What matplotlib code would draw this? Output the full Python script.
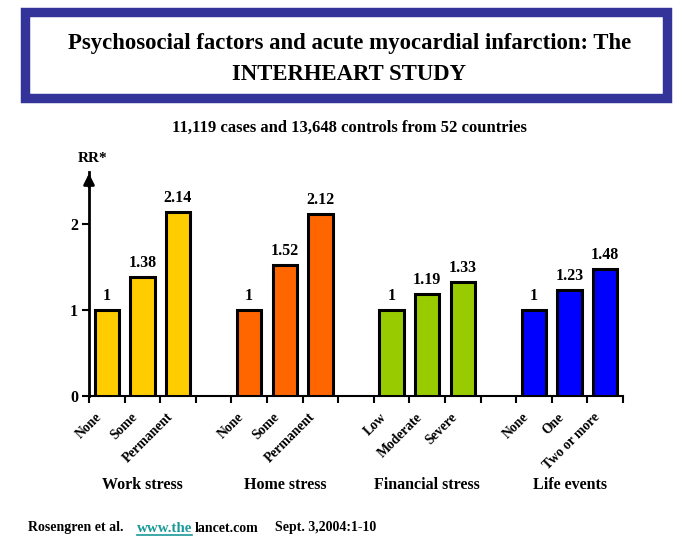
import matplotlib
matplotlib.use("Agg")
import matplotlib.pyplot as plt
from matplotlib.patches import Rectangle

groups = ["Work stress", "Home stress", "Financial stress", "Life events"]
categories = [["None", "Some", "Permanent"],
              ["None", "Some", "Permanent"],
              ["Low", "Moderate", "Severe"],
              ["None", "One", "Two or more"]]
values = [[1, 1.38, 2.14],
          [1, 1.52, 2.12],
          [1, 1.19, 1.33],
          [1, 1.23, 1.48]]
value_labels = [["1", "1.38", "2.14"],
                ["1", "1.52", "2.12"],
                ["1", "1.19", "1.33"],
                ["1", "1.23", "1.48"]]
colors = ["#FFCC00", "#FF6600", "#99CC00", "#0000FF"]

plt.rcParams['font.family'] = ['Liberation Serif', 'DejaVu Serif']
W, H = 699, 542
fig = plt.figure(figsize=(W / 100, H / 100), dpi=100)

# title box
fig.patches.append(Rectangle((25 / W, 1 - 98 / H), 641.5 / W, 85.5 / H, transform=fig.transFigure,
                             facecolor="white", edgecolor="#333399", linewidth=6.8))
fig.text(0.5, 1 - 43 / H, "Psychosocial factors and acute myocardial infarction: The",
         ha="center", va="center", fontsize=16.4, fontweight="bold")
fig.text(0.5, 1 - 74 / H, "INTERHEART STUDY", ha="center", va="center", fontsize=16.4, fontweight="bold")
fig.text(0.5, 1 - 128 / H, "11,119 cases and 13,648 controls from 52 countries",
         ha="center", va="center", fontsize=12, fontweight="bold")

left, right, bottom = 89, 623, 396
ymax = 2.6
ppu = 86
top = bottom - ymax * ppu
ax = fig.add_axes([left / W, 1 - bottom / H, (right - left) / W, (bottom - top) / H])

nslots = 15
for gi, (cats, vals, labs) in enumerate(zip(categories, values, value_labels)):
    for ci, (c, v, lab) in enumerate(zip(cats, vals, labs)):
        pos = gi * 4 + ci + 0.5
        ax.bar(pos, v, width=0.68, color=colors[gi], edgecolor="black", linewidth=2.2, zorder=3)
        ax.text(pos, v + 0.07, lab, ha="center", va="bottom", fontsize=11.5, fontweight="bold")
        ax.text(pos - 0.33, -0.17, c, ha="right", va="top", rotation=45, rotation_mode="anchor",
                fontsize=9.8, fontweight="bold")
    ax.text(gi * 4 + 1.5, -1.03, groups[gi], ha="center", va="center", fontsize=11.5, fontweight="bold")

ax.set_xlim(0, nslots)
ax.set_ylim(0, ymax)
ax.set_xticks(range(0, nslots + 1))
ax.set_xticklabels([])
ax.set_yticks([0, 1, 2])
ax.set_yticklabels(["0", "1", "2"], fontsize=11.5, fontweight="bold")
ax.tick_params(axis="x", direction="out", length=5, width=1.5)
ax.tick_params(axis="y", direction="out", length=5, width=1.5, pad=3)
for s in ["top", "right"]:
    ax.spines[s].set_visible(False)
ax.spines["left"].set_linewidth(2)
ax.spines["bottom"].set_linewidth(1.5)
ax.annotate("", xy=(0, ymax + 0.02), xytext=(0, ymax - 0.2), xycoords="data",
            arrowprops=dict(arrowstyle="-|>", color="black", lw=2, mutation_scale=16),
            annotation_clip=False)
fig.text(93 / W, 1 - 158 / H, "RR*", ha="center", va="center", fontsize=11, fontweight="bold")

# footer
fy = 1 - 528 / H
fig.text(28 / W, fy, "Rosengren et al.", ha="left", va="center", fontsize=10, fontweight="bold")
fig.text(137 / W, fy, "www.the", ha="left", va="center", fontsize=10.8, fontweight="bold",
         color="#1A9A9A")
fig.add_artist(plt.Line2D([137 / W, 192 / W], [fy - 7 / H, fy - 7 / H], color="#1A9A9A", lw=1.2))
fig.text(195 / W, fy, "lancet.com", ha="left", va="center", fontsize=10, fontweight="bold")
fig.text(275 / W, fy, "Sept. 3,2004:1-10", ha="left", va="center", fontsize=10, fontweight="bold")

fig.savefig("out.png", dpi=100)
